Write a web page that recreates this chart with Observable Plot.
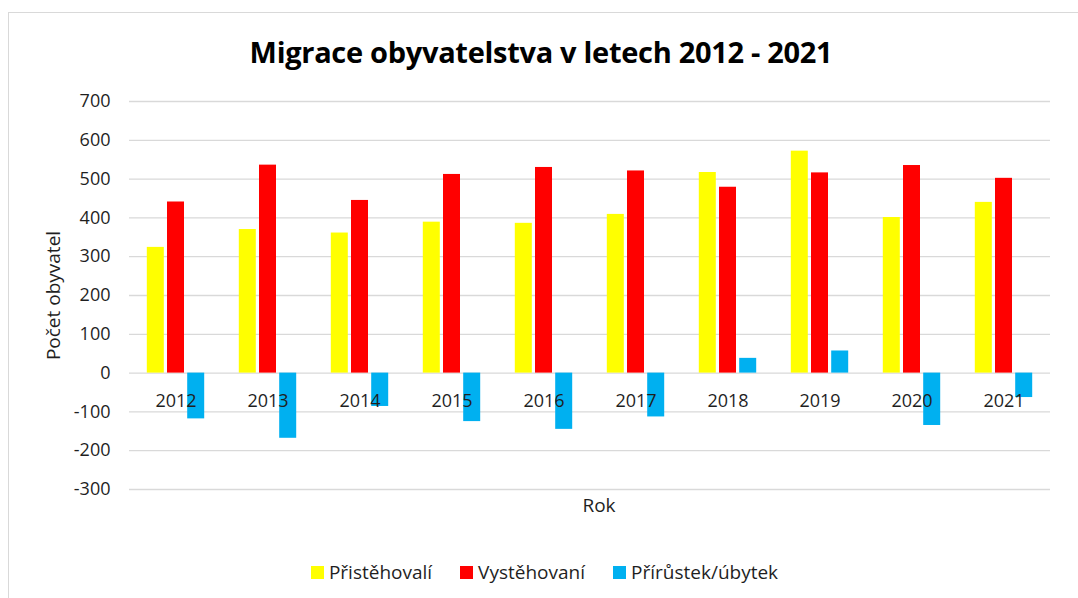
<!DOCTYPE html>
<html>
<head>
<meta charset="utf-8">
<script src="https://cdn.jsdelivr.net/npm/d3@7"></script>
<script src="https://cdn.jsdelivr.net/npm/@observablehq/plot@0.6"></script>
<style>
  html, body { margin: 0; padding: 0; background: #fff; width: 1078px; height: 598px; overflow: hidden; }
  body { position: relative; font-family: "Open Sans", sans-serif; color: #1f1f1f; }
  #frame { position: absolute; left: 8px; top: 12px; width: 1080px; height: 600px; border: 1px solid #d9d9d9; box-sizing: border-box; }
  #title { position: absolute; left: 0; width: 1082px; top: 32px; text-align: center; font-weight: bold; font-size: 29px; line-height: 40px; color: #000; letter-spacing: -0.3px; }
  #chart { position: absolute; left: 0; top: 80px; }
  #legend { position: absolute; left: 0; width: 1078px; top: 559px; display: flex; justify-content: center; gap: 28px; font-size: 19px; padding-left: 11px; box-sizing: border-box; }
  .item { display: flex; align-items: center; gap: 5px; }
  .sw { width: 13px; height: 13px; display: inline-block; }
</style>
</head>
<body>
<div id="frame"></div>
<div id="title">Migrace obyvatelstva v letech 2012 - 2021</div>
<div id="chart"></div>
<div id="legend"></div>
<script>
const years = ["2012","2013","2014","2015","2016","2017","2018","2019","2020","2021"];
const immigrants = [324, 370, 361, 389, 386, 409, 517, 572, 401, 440];
const emigrants  = [441, 536, 445, 512, 530, 521, 479, 516, 535, 502];
const netChange  = [-118, -168, -86, -125, -145, -113, 38, 57, -135, -63];
const seriesNames = ["Přistěhovalí", "Vystěhovaní", "Přírůstek/úbytek"];
const seriesColors = ["#FFFF00", "#FF0000", "#00B0F0"];
const yTicks = [-300, -200, -100, 0, 100, 200, 300, 400, 500, 600, 700];

const seriesValues = [immigrants, emigrants, netChange];
const tables = seriesValues.map(vals => years.map((year, i) => ({year, value: vals[i]})));
const step = 20.2;
const offsets = [-step, 0, step];
const textColor = "#1f1f1f";

const chart = Plot.plot({
  width: 1078,
  height: 460,
  marginTop: 21,
  marginBottom: 51,
  marginLeft: 129,
  marginRight: 28,
  style: {fontFamily: "Open Sans, sans-serif", fontSize: "18px", color: textColor, background: "transparent"},
  x: {domain: years, paddingInner: 0.8126, paddingOuter: 0.4063, axis: null},
  y: {domain: [-300, 700]},
  marks: [
    Plot.ruleY(yTicks, {stroke: "#d9d9d9", strokeWidth: 1.3}),
    ...tables.map((t, k) => Plot.barY(t, {x: "year", y: "value", fill: seriesColors[k], dx: offsets[k]})),
    Plot.axisY(yTicks, {tickSize: 0, tickPadding: 19, label: null, fontSize: 18, tickFormat: d => String(d)}),
    Plot.text(years, {x: d => d, y: years.map(() => 0), text: d => d, dy: 28, fontSize: 18, fill: textColor}),
    Plot.text(["Počet obyvatel"], {frameAnchor: "left", textAnchor: "middle", text: d => d, rotate: -90, dx: -76, fontSize: 19, fill: textColor}),
    Plot.text(["Rok"], {frameAnchor: "bottom", text: d => d, dy: 22, dx: 9, fontSize: 19, fill: textColor})
  ]
});
document.getElementById("chart").appendChild(chart);

const legend = document.getElementById("legend");
seriesNames.forEach((name, k) => {
  const item = document.createElement("div");
  item.className = "item";
  const sw = document.createElement("span");
  sw.className = "sw";
  sw.style.background = seriesColors[k];
  const label = document.createElement("span");
  label.textContent = name;
  item.appendChild(sw);
  item.appendChild(label);
  legend.appendChild(item);
});
</script>
</body>
</html>
